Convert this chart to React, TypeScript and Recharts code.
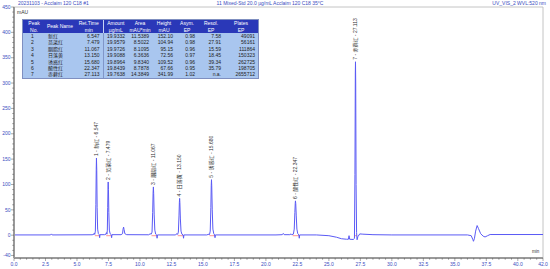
import React from 'react';
import { LineChart, Line, XAxis, YAxis, ReferenceLine, ReferenceDot } from 'recharts';

const peakNo = ['1', '2', '3', '4', '5', '6', '7'];
const peakNames = ['新红', '苋菜红', '胭脂红', '日落黄', '诱惑红', '酸性红', '赤藓红'];
const retTimes = [6.547, 7.479, 11.067, 13.15, 15.68, 22.347, 27.113];
const retTimeLabels = ['6.547', '7.479', '11.067', '13.150', '15.680', '22.347', '27.113'];
const amounts = ['19.9332', '19.9579', '19.9726', '19.9088', '19.8964', '19.8439', '19.7638'];
const areas = ['11.5389', '8.5022', '8.1095', '6.3636', '9.8340', '8.7878', '14.3849'];
const heights = [152.1, 104.94, 95.15, 72.56, 109.52, 67.66, 341.99];
const heightLabels = ['152.10', '104.94', '95.15', '72.56', '109.52', '67.66', '341.99'];
const asym = ['0.98', '0.98', '0.96', '0.97', '0.96', '0.95', '1.02'];
const resol = ['7.58', '27.91', '15.59', '18.45', '39.34', '35.79', 'n.a.'];
const plates = ['49091', '56161', '111864', '150323', '262725', '198705', '2655712'];
const intStart = [6.42, 7.32, 10.92, 13.0, 15.52, 22.12, 27.02];
const intEnd = [6.8, 7.75, 11.36, 13.46, 15.96, 22.65, 27.24];

const headerTop = ['Peak', 'Peak Name', 'Ret.Time', 'Amount', 'Area', 'Height', 'Asym.', 'Resol.', 'Plates'];
const headerBottom = ['No.', '', 'min', 'µg/mL', 'mAU*min', 'mAU', 'EP', 'EP', 'EP'];

const xMajorTicks = [0, 2.5, 5, 7.5, 10, 12.5, 15, 17.5, 20, 22.5, 25, 27.5, 30, 32.5, 35, 37.5, 40, 42];
const yMajorTicks = [-40, 0, 50, 100, 150, 200, 250, 300, 350, 400, 450];

// chromatogram trace: [time (min), signal (mAU)]
const trace: [number, number][] = [
  [0, 0.5], [2.9, 0.5], [2.97, 2.5], [3.03, 0.5], [6.2, 0.8],
  [6.33, 1.5], [6.37, 4], [6.41, 1.5], [6.46, 8], [6.5, 60], [6.53, 130], [6.547, 152.1], [6.57, 128],
  [6.6, 55], [6.64, 12], [6.7, 3], [6.77, 1], [6.8, -5], [6.83, 1],
  [7.2, 1], [7.3, 2], [7.34, 5], [7.38, 2], [7.41, 10], [7.44, 55], [7.465, 95], [7.479, 104.94],
  [7.5, 90], [7.53, 45], [7.57, 10], [7.63, 3], [7.72, 1], [7.75, -5], [7.78, 1],
  [8.5, 1], [8.62, 3], [8.66, 12], [8.7, 16], [8.74, 11], [8.8, 3], [8.95, 1],
  [10.7, 0.8], [10.82, 3], [10.88, 1.5], [10.96, 6], [11.01, 45], [11.045, 85], [11.067, 95.15],
  [11.09, 82], [11.13, 40], [11.18, 10], [11.25, 2], [11.33, 0.5], [11.36, -6], [11.39, 0.5],
  [12.8, 0.5], [12.95, 3], [12.99, 1.5], [13.05, 6], [13.1, 38], [13.13, 65], [13.15, 72.56],
  [13.17, 64], [13.21, 32], [13.26, 8], [13.33, 2], [13.43, 0.5], [13.46, -6], [13.49, 0.5],
  [15.3, 0.5], [15.48, 2], [15.52, 1], [15.58, 8], [15.63, 55], [15.66, 98], [15.68, 109.52],
  [15.7, 97], [15.74, 50], [15.79, 12], [15.86, 3], [15.93, 0.5], [15.96, -5], [15.99, 0.5],
  [20.8, 0.5], [21.3, 1], [21.38, 3.5], [21.45, 1], [21.9, 1], [22.0, 2.5], [22.05, 1],
  [22.18, 2], [22.25, 12], [22.3, 45], [22.33, 63], [22.347, 67.66], [22.37, 62], [22.41, 38],
  [22.46, 12], [22.53, 3], [22.62, 0.5], [22.65, -6], [22.68, 0.5],
  [24.0, 0.5], [25.0, -1], [25.6, -4], [26.0, -7], [26.4, -8], [26.55, -8], [26.6, -1], [26.65, -8],
  [26.95, -8.5], [27.03, -6], [27.07, 120], [27.1, 320], [27.113, 341.99], [27.13, 300], [27.16, 100],
  [27.2, 5], [27.24, -9], [27.3, -3], [27.45, 2.5], [27.7, 2], [28.5, 1], [30, 0.5],
  [36.0, 0.5], [36.3, -1], [36.42, -8], [36.48, -12], [36.56, -6], [36.65, 8], [36.77, 19], [36.88, 13],
  [37.05, 3], [37.25, -2], [37.4, -3.5], [37.6, -1], [37.8, 1.3], [42, 1.3],
];

const chartData = trace.map(([t, y]) => ({ t, y }));

const xTicks: number[] = [];
for (let i = 0; i <= 84; i++) xTicks.push(i * 0.5);
const yTicks: number[] = [];
for (let v = -40; v <= 450; v += 10) yTicks.push(v);

const FONT = '"Liberation Sans", Arial, sans-serif';
const CJK = '"Liberation Sans", "Noto Sans CJK SC", sans-serif';
const BLUE = '#3a4cc0';
const AXIS = '#9a9a9a';

const XTick = (props: any) => {
  const { x, y, payload } = props;
  const v = payload.value as number;
  const major = xMajorTicks.includes(v);
  return (
    <g>
      <line x1={x} x2={x} y1={y} y2={y + (major ? 3 : 1.8)} stroke="#555" strokeWidth={0.5} />
      {major && (
        <text x={x} y={y + 8} textAnchor="middle" fontSize={5} fill={BLUE} fontFamily={FONT}>
          {v.toFixed(1)}
        </text>
      )}
    </g>
  );
};

const YTick = (props: any) => {
  const { x, y, payload } = props;
  const v = payload.value as number;
  const major = yMajorTicks.includes(v);
  return (
    <g>
      <line x1={x - (major ? 3 : 1.8)} x2={x} y1={y} y2={y} stroke="#555" strokeWidth={0.5} />
      {major && (
        <text x={x - 3.5} y={y + 1.7} textAnchor="end" fontSize={5} fill={BLUE} fontFamily={FONT}>
          {v}
        </text>
      )}
    </g>
  );
};

const PeakLabel = (label: string) => (props: any) => {
  const { cx, cy } = props;
  return (
    <g>
      <text
        x={cx}
        y={cy}
        transform={`rotate(-90 ${cx} ${cy})`}
        dx={2}
        dy={1.7}
        fontSize={5}
        fill="#333"
        fontFamily={CJK}
      >
        {label}
      </text>
    </g>
  );
};

const colWidths = [22, 30, 28, 25, 24, 24, 22, 26, 34];
const colAlign: ('center' | 'left' | 'right')[] = ['center', 'left', 'right', 'right', 'right', 'right', 'right', 'right', 'right'];

export default function App() {
  const rows = peakNo.map((n, i) => [
    n, peakNames[i], retTimeLabels[i], amounts[i], areas[i], heightLabels[i], asym[i], resol[i], plates[i],
  ]);
  return (
    <div style={{ position: 'absolute', left: 0, top: 0, width: 550, height: 269, background: '#fff', overflow: 'hidden' }}>
      <LineChart
        width={550}
        height={269}
        data={chartData}
        margin={{ top: 7, right: 7, bottom: 0, left: 0 }}
      >
        <XAxis
          dataKey="t"
          type="number"
          domain={[0, 42]}
          ticks={xTicks}
          interval={0}
          height={11}
          tickSize={0}
          tickMargin={0}
          axisLine={{ stroke: AXIS, strokeWidth: 2 }}
          tickLine={false}
          tick={<XTick />}
          allowDataOverflow
        />
        <YAxis
          type="number"
          domain={[-45, 450]}
          ticks={yTicks}
          interval={0}
          width={14}
          tickSize={0}
          tickMargin={0}
          axisLine={{ stroke: AXIS, strokeWidth: 2 }}
          tickLine={false}
          tick={<YTick />}
          allowDataOverflow
        />
        <ReferenceLine y={450} stroke="#b5b5b5" strokeWidth={0.8} />
        <ReferenceLine x={42} stroke="#b5b5b5" strokeWidth={0.8} />
        {intStart.map((s, i) => (
          <ReferenceLine
            key={'int' + i}
            segment={[{ x: s, y: -1 }, { x: intEnd[i], y: -1 }]}
            stroke="#ff7a7a"
            strokeWidth={0.8}
          />
        ))}
        <Line
          type="linear"
          dataKey="y"
          stroke="#5a5af5"
          strokeWidth={1}
          dot={false}
          isAnimationActive={false}
        />
        {retTimes.map((rt, i) => (
          <ReferenceDot
            key={'pk' + i}
            x={rt}
            y={heights[i]}
            r={0}
            shape={PeakLabel(`${peakNo[i]} - ${peakNames[i]} - ${retTimeLabels[i]}`)}
          />
        ))}
      </LineChart>

      <div style={{ position: 'absolute', left: 18, top: 0, fontSize: 5, fontFamily: FONT, color: BLUE, lineHeight: '7px', whiteSpace: 'nowrap' }}>
        20231103 - Acclaim 120 C18 #1
      </div>
      <div style={{ position: 'absolute', left: 170, width: 200, top: 0, textAlign: 'center', fontSize: 5, fontFamily: FONT, color: BLUE, lineHeight: '7px', whiteSpace: 'nowrap' }}>
        11 Mixed-Std 20.0 µg/mL Acclaim 120 C18 35°C
      </div>
      <div style={{ position: 'absolute', right: 4, top: 0, fontSize: 5, fontFamily: FONT, color: BLUE, lineHeight: '7px', whiteSpace: 'nowrap' }}>
        UV_VIS_2 WVL:520 nm
      </div>
      <div style={{ position: 'absolute', left: 17, top: 9, fontSize: 5, fontFamily: FONT, color: '#333', lineHeight: '6px' }}>
        mAU
      </div>
      <div style={{ position: 'absolute', left: 532, top: 249, fontSize: 4.5, fontFamily: FONT, color: '#333', lineHeight: '6px' }}>
        min
      </div>

      <div style={{ position: 'absolute', left: 22, top: 19, border: '0.5px solid #7f8fc0' }}>
        <table
          style={{
            borderCollapse: 'collapse',
            tableLayout: 'fixed',
            width: colWidths.reduce((a, b) => a + b, 0),
            fontSize: 5,
            fontFamily: CJK,
          }}
        >
          <colgroup>
            {colWidths.map((w, i) => (
              <col key={i} style={{ width: w }} />
            ))}
          </colgroup>
          <thead>
            <tr style={{ background: '#2a38b8', color: '#fff' }}>
              {headerTop.map((h, i) => (
                <td
                  key={i}
                  style={{
                    padding: '0 1px',
                    textAlign: 'center',
                    lineHeight: '6.5px',
                    height: 13,
                    whiteSpace: 'nowrap',
                    borderRight: i === 2 ? '0.6px solid #c8d4f5' : 'none',
                  }}
                >
                  {h}
                  <br />
                  {headerBottom[i]}
                </td>
              ))}
            </tr>
          </thead>
          <tbody>
            {rows.map((r, ri) => (
              <tr key={ri} style={{ background: '#a9c6ef', color: '#222' }}>
                {r.map((c, ci) => (
                  <td
                    key={ci}
                    style={{
                      padding: ci === 1 ? '0 0 0 3px' : '0 3px 0 0',
                      textAlign: colAlign[ci],
                      lineHeight: '6.4px',
                      height: 6.4,
                      whiteSpace: 'nowrap',
                      overflow: 'hidden',
                      borderRight: ci === 2 ? '0.6px solid #8096c8' : 'none',
                    }}
                  >
                    {c}
                  </td>
                ))}
              </tr>
            ))}
          </tbody>
        </table>
      </div>
    </div>
  );
}
